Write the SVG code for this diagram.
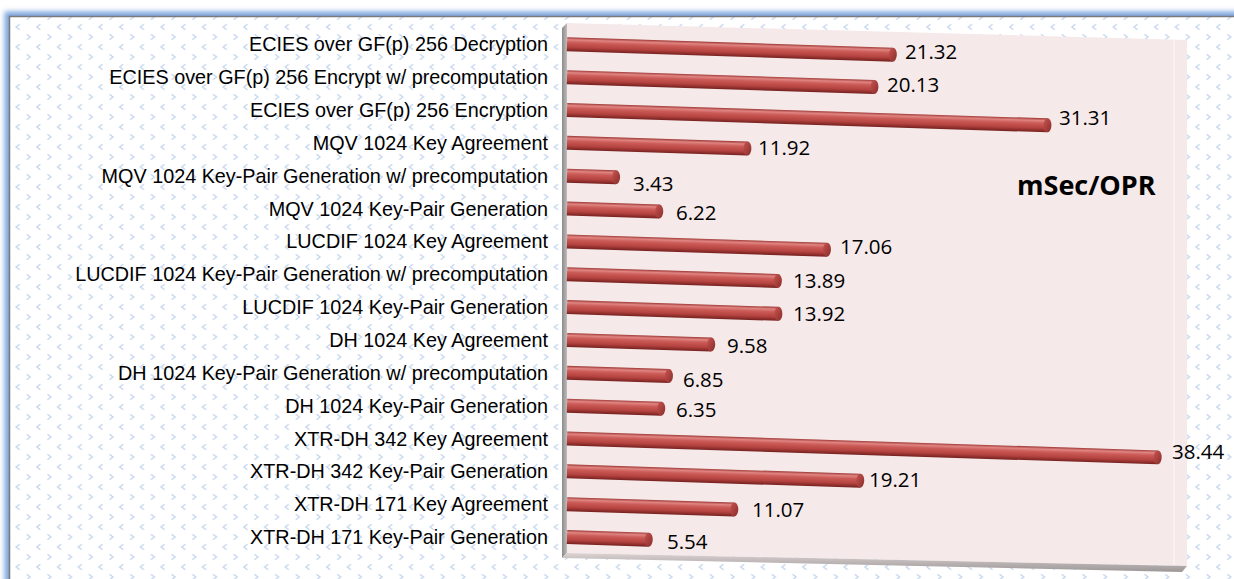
<svg xmlns="http://www.w3.org/2000/svg" width="1234" height="579" viewBox="0 0 1234 579">
  <style>
    .cat { font-family: "Liberation Sans", Arial, sans-serif; font-size: 19.8px; fill: #000; text-anchor: end; }
    .val { font-family: "Open Sans", "Liberation Sans", sans-serif; font-size: 20.5px; fill: #000; }
    .unit { font-family: "Open Sans", "Liberation Sans", sans-serif; font-size: 27px; font-weight: bold; fill: #000; }
  </style>
  <defs>
    <filter id="glow" x="-5%" y="-5%" width="110%" height="110%">
      <feGaussianBlur stdDeviation="2.5"/>
    </filter>
    <pattern id="chev" patternUnits="userSpaceOnUse" x="5.5" y="14" width="20.7" height="20">
      <path d="M0.5,0.3 L4,3 L0.5,5.7" fill="none" stroke="#c5d6ee" stroke-width="1.4"/>
      <path d="M14.2,10.3 L10.7,13 L14.2,15.7" fill="none" stroke="#c5d6ee" stroke-width="1.4"/>
    </pattern>
    <linearGradient id="cyl" x1="0" y1="0" x2="0" y2="1">
      <stop offset="0" stop-color="#9e3936"/>
      <stop offset="0.17" stop-color="#e08582"/>
      <stop offset="0.36" stop-color="#cc5c58"/>
      <stop offset="0.7" stop-color="#b54340"/>
      <stop offset="1" stop-color="#75211f"/>
    </linearGradient>
    <linearGradient id="cap" x1="0" y1="0" x2="1" y2="1">
      <stop offset="0" stop-color="#c65451"/>
      <stop offset="1" stop-color="#8a2d2a"/>
    </linearGradient>
    <linearGradient id="side" x1="0" y1="0" x2="1" y2="0">
      <stop offset="0" stop-color="#8a8a8a"/>
      <stop offset="1" stop-color="#bdbdbd"/>
    </linearGradient>
    <linearGradient id="floor" x1="0" y1="0" x2="0" y2="1">
      <stop offset="0" stop-color="#ddd3d3"/>
      <stop offset="1" stop-color="#9b9697"/>
    </linearGradient>
  </defs>

  <!-- outer frame with soft blue glow -->
  <rect x="0" y="0" width="1234" height="579" fill="#ffffff"/>
  <rect x="9.5" y="16.5" width="1300" height="700" fill="none" stroke="#7ea6de" stroke-width="10" filter="url(#glow)"/>
  <rect x="9.5" y="16.5" width="1300" height="700" fill="#ffffff"/>
  <rect x="9.5" y="16.5" width="1300" height="700" fill="url(#chev)"/>
  <rect x="9.5" y="16.5" width="1300" height="700" fill="none" stroke="#7a7a7a" stroke-width="1.5"/>

  <!-- plot area: back wall, side wall, floor -->
  <g id="plot-area">
    <polygon points="567,23 1187,40 1187,566 567,553" fill="#f6e9e9"/>
    <line x1="1174" y1="40" x2="1174" y2="565" stroke="#fbf3f3" stroke-width="1.5"/>
    <polygon points="562,28 567,23 567,553 562,558" fill="url(#side)"/>
    <polygon points="567,553 1187,566 1182,572 562,558" fill="url(#floor)"/>
  </g>

  <!-- category labels -->
  <g id="labels">
    <text class="cat" x="548" y="51">ECIES over GF(p) 256 Decryption</text>
    <text class="cat" x="548" y="84">ECIES over GF(p) 256 Encrypt w/ precomputation</text>
    <text class="cat" x="548" y="117">ECIES over GF(p) 256 Encryption</text>
    <text class="cat" x="548" y="150">MQV 1024 Key Agreement</text>
    <text class="cat" x="548" y="183">MQV 1024 Key-Pair Generation w/ precomputation</text>
    <text class="cat" x="548" y="216">MQV 1024 Key-Pair Generation</text>
    <text class="cat" x="548" y="248">LUCDIF 1024 Key Agreement</text>
    <text class="cat" x="548" y="281">LUCDIF 1024 Key-Pair Generation w/ precomputation</text>
    <text class="cat" x="548" y="314">LUCDIF 1024 Key-Pair Generation</text>
    <text class="cat" x="548" y="347">DH 1024 Key Agreement</text>
    <text class="cat" x="548" y="380">DH 1024 Key-Pair Generation w/ precomputation</text>
    <text class="cat" x="548" y="413">DH 1024 Key-Pair Generation</text>
    <text class="cat" x="548" y="446">XTR-DH 342 Key Agreement</text>
    <text class="cat" x="548" y="478">XTR-DH 342 Key-Pair Generation</text>
    <text class="cat" x="548" y="511">XTR-DH 171 Key Agreement</text>
    <text class="cat" x="548" y="544">XTR-DH 171 Key-Pair Generation</text>
  </g>

  <!-- cylinder bars, 15.48 px per mSec, tilted by the 3-D view -->
  <g id="bars">
    <g id="bar-1" transform="translate(567,44.3) rotate(1.83)"><rect x="0" y="-7" width="326" height="14" fill="url(#cyl)"/><ellipse cx="326" cy="0" rx="4" ry="7" fill="url(#cap)"/></g>
    <g id="bar-2" transform="translate(567,77.15) rotate(1.83)"><rect x="0" y="-7" width="307.6" height="14" fill="url(#cyl)"/><ellipse cx="307.6" cy="0" rx="4" ry="7" fill="url(#cap)"/></g>
    <g id="bar-3" transform="translate(567,110) rotate(1.83)"><rect x="0" y="-7" width="480.7" height="14" fill="url(#cyl)"/><ellipse cx="480.7" cy="0" rx="4" ry="7" fill="url(#cap)"/></g>
    <g id="bar-4" transform="translate(567,142.85) rotate(1.83)"><rect x="0" y="-7" width="180.5" height="14" fill="url(#cyl)"/><ellipse cx="180.5" cy="0" rx="4" ry="7" fill="url(#cap)"/></g>
    <g id="bar-5" transform="translate(567,175.7) rotate(1.83)"><rect x="0" y="-7" width="49.1" height="14" fill="url(#cyl)"/><ellipse cx="49.1" cy="0" rx="4" ry="7" fill="url(#cap)"/></g>
    <g id="bar-6" transform="translate(567,208.55) rotate(1.83)"><rect x="0" y="-7" width="92.3" height="14" fill="url(#cyl)"/><ellipse cx="92.3" cy="0" rx="4" ry="7" fill="url(#cap)"/></g>
    <g id="bar-7" transform="translate(567,241.4) rotate(1.83)"><rect x="0" y="-7" width="260.1" height="14" fill="url(#cyl)"/><ellipse cx="260.1" cy="0" rx="4" ry="7" fill="url(#cap)"/></g>
    <g id="bar-8" transform="translate(567,274.25) rotate(1.83)"><rect x="0" y="-7" width="211" height="14" fill="url(#cyl)"/><ellipse cx="211" cy="0" rx="4" ry="7" fill="url(#cap)"/></g>
    <g id="bar-9" transform="translate(567,307.1) rotate(1.83)"><rect x="0" y="-7" width="211.5" height="14" fill="url(#cyl)"/><ellipse cx="211.5" cy="0" rx="4" ry="7" fill="url(#cap)"/></g>
    <g id="bar-10" transform="translate(567,339.95) rotate(1.83)"><rect x="0" y="-7" width="144.3" height="14" fill="url(#cyl)"/><ellipse cx="144.3" cy="0" rx="4" ry="7" fill="url(#cap)"/></g>
    <g id="bar-11" transform="translate(567,372.8) rotate(1.83)"><rect x="0" y="-7" width="102" height="14" fill="url(#cyl)"/><ellipse cx="102" cy="0" rx="4" ry="7" fill="url(#cap)"/></g>
    <g id="bar-12" transform="translate(567,405.65) rotate(1.83)"><rect x="0" y="-7" width="94.3" height="14" fill="url(#cyl)"/><ellipse cx="94.3" cy="0" rx="4" ry="7" fill="url(#cap)"/></g>
    <g id="bar-13" transform="translate(567,438.5) rotate(1.83)"><rect x="0" y="-7" width="591" height="14" fill="url(#cyl)"/><ellipse cx="591" cy="0" rx="4" ry="7" fill="url(#cap)"/></g>
    <g id="bar-14" transform="translate(567,471.35) rotate(1.83)"><rect x="0" y="-7" width="293.4" height="14" fill="url(#cyl)"/><ellipse cx="293.4" cy="0" rx="4" ry="7" fill="url(#cap)"/></g>
    <g id="bar-15" transform="translate(567,504.2) rotate(1.83)"><rect x="0" y="-7" width="167.4" height="14" fill="url(#cyl)"/><ellipse cx="167.4" cy="0" rx="4" ry="7" fill="url(#cap)"/></g>
    <g id="bar-16" transform="translate(567,537.05) rotate(1.83)"><rect x="0" y="-7" width="81.8" height="14" fill="url(#cyl)"/><ellipse cx="81.8" cy="0" rx="4" ry="7" fill="url(#cap)"/></g>
  </g>

  <!-- value labels -->
  <g id="values">
    <text class="val" x="905" y="59">21.32</text>
    <text class="val" x="887" y="92">20.13</text>
    <text class="val" x="1059" y="125">31.31</text>
    <text class="val" x="758" y="155">11.92</text>
    <text class="val" x="633" y="191">3.43</text>
    <text class="val" x="676" y="220">6.22</text>
    <text class="val" x="840" y="254">17.06</text>
    <text class="val" x="793" y="288">13.89</text>
    <text class="val" x="793" y="321">13.92</text>
    <text class="val" x="727" y="353">9.58</text>
    <text class="val" x="683" y="387">6.85</text>
    <text class="val" x="676" y="417">6.35</text>
    <text class="val" x="1172" y="459">38.44</text>
    <text class="val" x="869" y="487">19.21</text>
    <text class="val" x="752" y="517">11.07</text>
    <text class="val" x="667" y="549">5.54</text>
  </g>

  <text id="unit-title" class="unit" x="1017" y="195">mSec/OPR</text>
</svg>
